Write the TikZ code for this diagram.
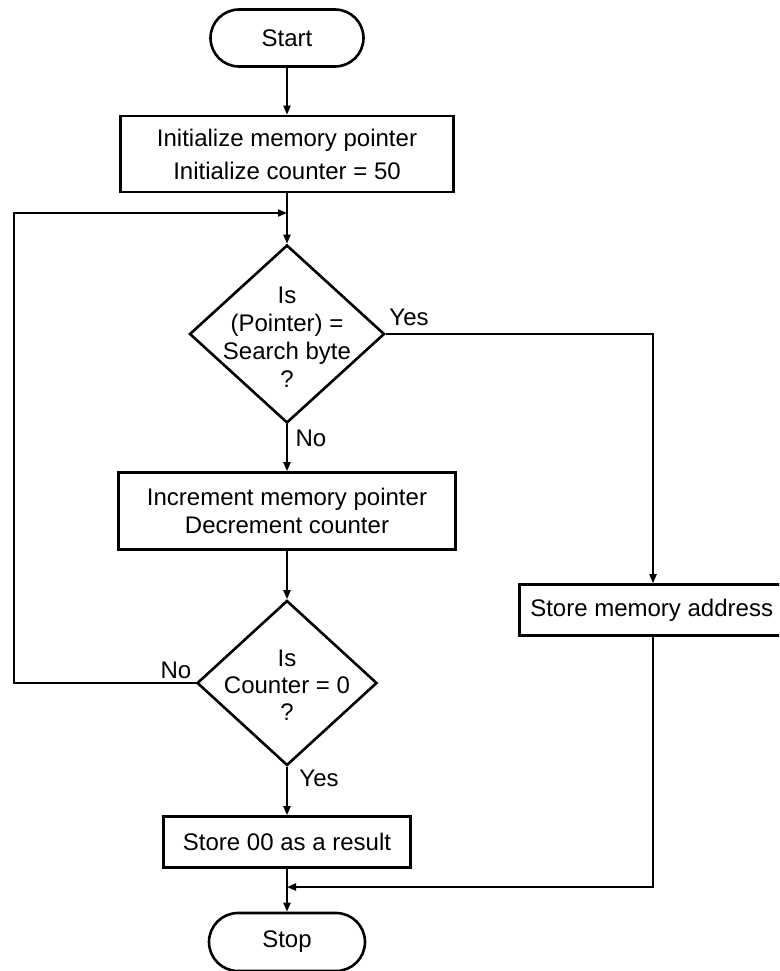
\documentclass[tikz,border=0pt]{standalone}
\usepackage{fontspec}
\setmainfont{Liberation Sans}
\usetikzlibrary{shapes.geometric,shapes.misc,arrows.meta}
\begin{document}
\begin{tikzpicture}[x=1pt,y=-1pt,
  base/.style={font=\fontsize{24}{28}\selectfont},
  proc/.style={base, draw, line width=2.6pt, rectangle, align=center, inner sep=0pt},
  term/.style={base, draw, line width=2.6pt, rounded rectangle, minimum width=153pt, minimum height=57pt, inner sep=0pt},
  dec/.style={draw, line width=2.6pt, diamond, inner sep=0pt},
  dtext/.style={base, align=center},
  lbl/.style={base},
  conn/.style={line width=2pt},
  arr/.style={conn, -{Triangle[length=9pt,width=7pt]}},
]
\useasboundingbox (0,0) rectangle (779,971);
\clip (0,0) rectangle (779,971);
\fill[white] (0,0) rectangle (779,971);

\node[term] (start) at (287,38) {Start};
\node[proc, minimum width=333pt, minimum height=76pt, font=\fontsize{24}{33}\selectfont] (init) at (287,154) {Initialize memory pointer\\Initialize counter = 50};
\coordinate (join1) at (287,213);
\coordinate (loopx) at (14,0);
\coordinate (rx) at (653,0);
\node[dec, minimum width=195pt, minimum height=178pt] (d1) at (287,334) {};
\node[dtext] (d1t) at (287,337) {Is\\(Pointer) =\\Search byte\\?};
\node[proc, minimum width=337pt, minimum height=77pt] (incr) at (287,511) {Increment memory pointer\\Decrement counter};
\node[dec, minimum width=180pt, minimum height=165pt] (d2) at (287,683) {};
\node[dtext, font=\fontsize{24}{27}\selectfont] (d2t) at (287,685) {Is\\Counter = 0\\?};
\node[proc, minimum width=247pt, minimum height=51pt] (store0) at (287,842) {Store 00 as a result};
\node[proc, anchor=west, minimum height=51pt, inner xsep=11pt] (storem) at (518,610) {Store memory address};
\coordinate (join2) at (287,887);
\node[term, minimum width=156pt, minimum height=58pt] (stop) at (287,942) {Stop};

\node[lbl] (yes1) at (409,317) {Yes};
\node[lbl] (no1) at (311,438) {No};
\node[lbl] (no2) at (176,670) {No};
\node[lbl] (yes2) at (319,778) {Yes};

\draw[arr] (start.south) -- (init.north);
\draw[arr] (init.south) -- (d1.north);
\draw[arr] (d2.west) -- (d2.west -| loopx) |- (join1);
\draw[arr] (d1.south) -- (incr.north);
\draw[arr] (incr.south) -- (d2.north);
\draw[arr] (d2.south) -- (store0.north);
\draw[arr] (d1.east) -| (rx |- storem.north);
\draw[arr] (rx |- storem.south) |- (join2);
\draw[conn] (store0.south) -- (join2);
\draw[arr] (join2) -- (stop.north);
\end{tikzpicture}
\end{document}
